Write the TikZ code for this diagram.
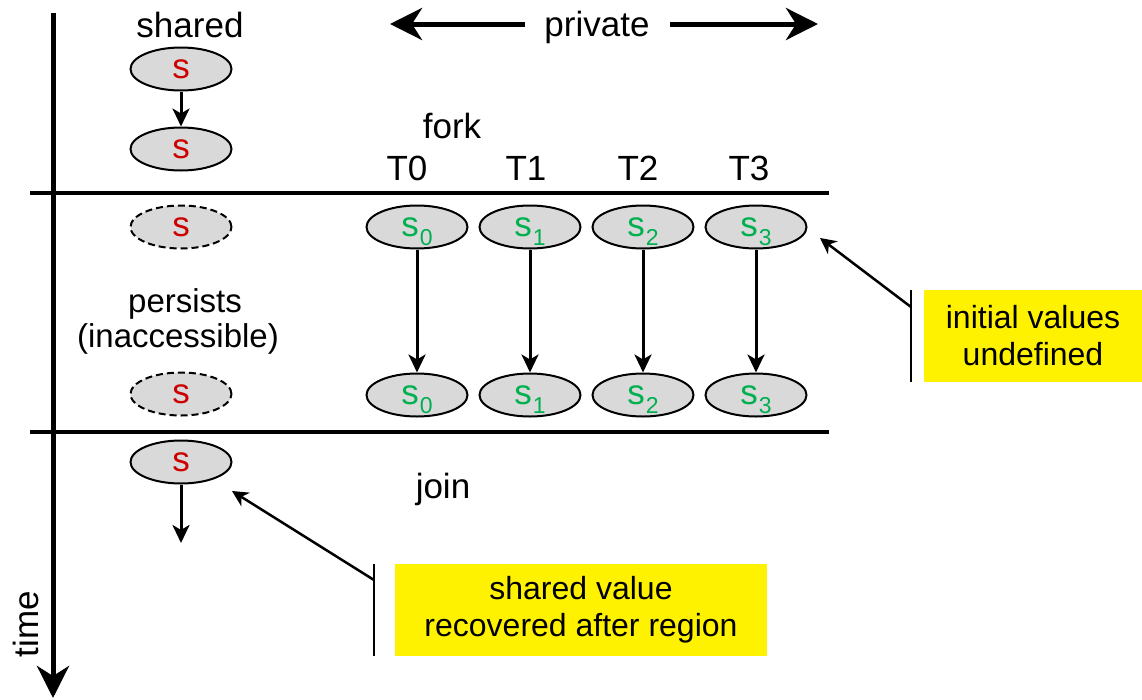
\documentclass[tikz,border=0pt]{standalone}
\usepackage{fontspec}
\setmainfont{Liberation Sans}
\usetikzlibrary{shapes.geometric,arrows.meta}
\definecolor{sred}{HTML}{CC0000}
\definecolor{sgreen}{HTML}{00B050}
\definecolor{egray}{HTML}{D9D9D9}
\newcommand{\svar}[1]{s\hspace{1pt}\smash{\raisebox{-9pt}{\fontsize{23}{23}\selectfont #1}}}
\begin{document}
\begin{tikzpicture}[x=1pt,y=-1pt,
  every node/.style={font=\fontsize{35}{40}\selectfont, inner sep=0pt},
  var/.style={ellipse, draw, line width=2pt, fill=egray, minimum width=101pt, minimum height=43pt, inner sep=0pt, text=sred},
  ghost/.style={var, dash pattern=on 7pt off 4pt},
  thr/.style={var, text=sgreen},
  flow/.style={line width=3pt, -{Stealth[length=18pt,width=17pt,inset=5pt]}},
  big/.style={line width=5pt, -{Stealth[length=32pt,width=32pt,inset=10pt]}},
  rule/.style={line width=4pt},
  bar/.style={line width=2pt},
  call/.style={line width=2.5pt, -{Stealth[length=16pt,width=16pt,inset=5pt]}},
  small/.style={font=\fontsize{33}{38}\selectfont},
  note/.style={fill=yellow, minimum width=#1, minimum height=92pt, align=center, font=\fontsize{32}{37}\selectfont}
]
\useasboundingbox (0,0) rectangle (1142,699);
% time axis
\coordinate (ttop) at (53,13);
\coordinate (tbot) at (53,698);
\draw[big] (ttop) -- (tbot);
\node[rotate=90] (time) at (26,624) {time};
% rules
\coordinate (r1l) at (30,193); \coordinate (r1r) at (829,193);
\coordinate (r2l) at (30,432); \coordinate (r2r) at (829,432);
\draw[rule] (r1l) -- (r1r);
\draw[rule] (r2l) -- (r2r);
% headings
\node[anchor=base] (shared) at (190,37) {shared};
\node[anchor=base] (private) at (597,36) {private};
\coordinate (pl0) at (525,24); \coordinate (pl1) at (390,24);
\coordinate (pr0) at (670,24); \coordinate (pr1) at (818,24);
\draw[big] (pl0) -- (pl1);
\draw[big] (pr0) -- (pr1);
\node[anchor=base] (fork) at (452,138) {fork};
\node[anchor=base] (T0) at (407,180) {T0};
\node[anchor=base] (T1) at (526,180) {T1};
\node[anchor=base] (T2) at (638,180) {T2};
\node[anchor=base] (T3) at (749,180) {T3};
\node[anchor=base, small] (pers) at (185,312) {persists};
\node[anchor=base, small] (inacc) at (178,347) {(inaccessible)};
\node[anchor=base] (join) at (443,498) {join};
% shared variable
\node[var] (sh1) at (181,69) {s};
\node[var] (sh2) at (181,149) {s};
\node[ghost] (g1) at (181,227) {s};
\node[ghost] (g2) at (181,394) {s};
\node[var] (sh3) at (181,462) {s};
\coordinate (shend) at (181,543);
\draw[flow] (sh1) -- (sh2);
\draw[flow] (sh3) -- (shend);
% threads
\foreach \i/\x in {0/417,1/530,2/643,3/756}{
  \node[thr] (a\i) at (\x,227) {\svar{\i}};
  \node[thr] (b\i) at (\x,395) {\svar{\i}};
  \draw[flow] (a\i) -- (b\i);
}
% callout 1
\node[note=218pt] (n1) at (1033,336) {initial values\\undefined};
\coordinate (c1t) at (911,290); \coordinate (c1b) at (911,382);
\coordinate (c1s) at (911,307); \coordinate (c1e) at (820,238);
\draw[bar] (c1t) -- (c1b);
\draw[call] (c1s) -- (c1e);
% callout 2
\node[note=372pt] (n2) at (581,610) {shared value\\recovered after region};
\coordinate (c2t) at (374,564); \coordinate (c2b) at (374,656);
\coordinate (c2s) at (374,580); \coordinate (c2e) at (232,491);
\draw[bar] (c2t) -- (c2b);
\draw[call] (c2s) -- (c2e);
\end{tikzpicture}
\end{document}
